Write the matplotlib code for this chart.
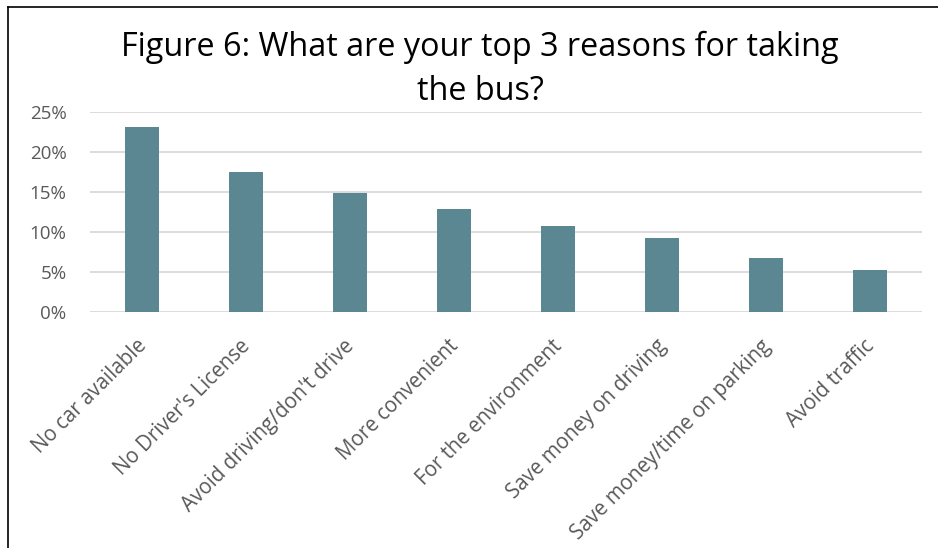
import matplotlib.pyplot as plt
from matplotlib.lines import Line2D
from matplotlib.ticker import PercentFormatter
from matplotlib.transforms import ScaledTranslation

reasons = ["No car available", "No Driver's License", "Avoid driving/don't drive",
           "More convenient", "For the environment", "Save money on driving",
           "Save money/time on parking", "Avoid traffic"]
shares = [23.1, 17.5, 14.9, 12.9, 10.8, 9.3, 6.7, 5.2]
yticks = [0, 5, 10, 15, 20, 25]

bar_color = '#5a8791'
text_gray = '#595959'
grid_gray = '#d9d9d9'

plt.rcParams['font.family'] = ['Open Sans', 'DejaVu Sans']

fig = plt.figure(figsize=(9.38, 5.48), dpi=100)
ax = fig.add_axes([90 / 938, 1 - 312 / 548, 832 / 938, 200 / 548])

ax.bar(range(len(reasons)), shares, width=0.32, color=bar_color, zorder=3)
ax.set_xlim(-0.5, len(reasons) - 0.5)
ax.set_ylim(0, 25)
ax.set_yticks(yticks)
ax.yaxis.set_major_formatter(PercentFormatter(decimals=0))
ax.grid(axis='y', color=grid_gray, linewidth=1.3, zorder=0)
ax.set_axisbelow(True)
for s in ax.spines.values():
    s.set_visible(False)
ax.tick_params(axis='both', length=0, colors=text_gray)
ax.tick_params(axis='y', pad=17, labelsize=13.5)
ax.set_xticks(range(len(reasons)))
ax.set_xticklabels(reasons, rotation=45, ha='right', rotation_mode='anchor')
ax.tick_params(axis='x', pad=17, labelsize=14.8)
# nudge the slanted category labels a little to the left
shift = ScaledTranslation(-6 / 100, 0, fig.dpi_scale_trans)
for lbl in ax.get_xticklabels():
    lbl.set_transform(lbl.get_transform() + shift)

fig.text(480 / 938, 1 - 47 / 548, "Figure 6: What are your top 3 reasons for taking",
         ha='center', va='center', fontsize=23.3, color='black')
fig.text(480 / 938, 1 - 91 / 548, "the bus?",
         ha='center', va='center', fontsize=23.3, color='black')

# frame edges along the left and top
fig.add_artist(Line2D([8 / 938, 8 / 938], [0, 1 - 7 / 548], transform=fig.transFigure,
                      color='black', linewidth=1.2))
fig.add_artist(Line2D([8 / 938, 1], [1 - 7 / 548, 1 - 7 / 548], transform=fig.transFigure,
                      color='black', linewidth=1.2))

fig.savefig('out.png', dpi=100)
